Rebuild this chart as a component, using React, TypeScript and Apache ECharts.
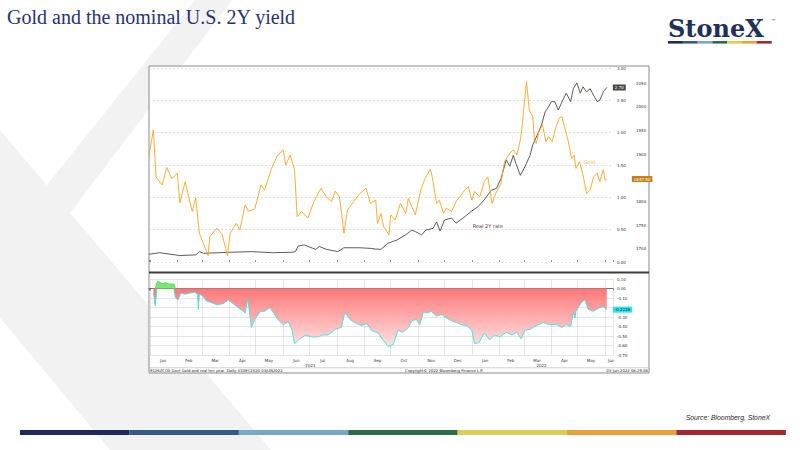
import * as echarts from "echarts";
import { useEffect, useRef } from "react";

type ChartOption = echarts.EChartsOption;

const NAVY = "#29336b";
const LOGO_NAVY = "#1f3157";
const GOLD_LINE = "#f6a524";
const YIELD_LINE = "#4e4944";
const CORR_LINE = "#3fe0e0";
const CORR_POS = "#4fd94f";
const INK = "#333333";
const GRID = "#d4d4d4";
const WATERMARK = "#f2f2f2";
const SANS = "'DejaVu Sans', Verdana, sans-serif";

// StoneX brand strip, left to right.
const BRAND = ["#1f2a5c", "#365b87", "#79a7c7", "#2d6b4b", "#d9cf56", "#e9a23a", "#a3282f"];

// Spot gold, USD/oz (right-hand axis of the top panel).
const GOLD_DATES = [
  "2020-12-31", "2021-01-05", "2021-01-08", "2021-01-15", "2021-01-20", "2021-01-26", "2021-02-01",
  "2021-02-04", "2021-02-10", "2021-02-18", "2021-02-22", "2021-02-26", "2021-03-08", "2021-03-10",
  "2021-03-18", "2021-03-24", "2021-03-30", "2021-04-02", "2021-04-09", "2021-04-13", "2021-04-19",
  "2021-04-23", "2021-04-30", "2021-05-07", "2021-05-11", "2021-05-19", "2021-05-25", "2021-06-01",
  "2021-06-04", "2021-06-09", "2021-06-14", "2021-06-17", "2021-06-22", "2021-06-29", "2021-07-06",
  "2021-07-14", "2021-07-20", "2021-07-26", "2021-07-30", "2021-08-04", "2021-08-09", "2021-08-13",
  "2021-08-20", "2021-08-27", "2021-09-03", "2021-09-08", "2021-09-14", "2021-09-16", "2021-09-20",
  "2021-09-23", "2021-09-29", "2021-10-01", "2021-10-06", "2021-10-12", "2021-10-18", "2021-10-21",
  "2021-10-25", "2021-10-29", "2021-11-04", "2021-11-09", "2021-11-15", "2021-11-17", "2021-11-22",
  "2021-11-25", "2021-11-30", "2021-12-03", "2021-12-09", "2021-12-15", "2021-12-20", "2021-12-24",
  "2021-12-28", "2022-01-01", "2022-01-04", "2022-01-10", "2022-01-15", "2022-01-19", "2022-01-24",
  "2022-01-28", "2022-02-03", "2022-02-07", "2022-02-13", "2022-02-17", "2022-02-21", "2022-02-25",
  "2022-02-27", "2022-03-01", "2022-03-04", "2022-03-07", "2022-03-11", "2022-03-13", "2022-03-15",
  "2022-03-18", "2022-03-22", "2022-03-26", "2022-03-29", "2022-04-02", "2022-04-06", "2022-04-10",
  "2022-04-13", "2022-04-16", "2022-04-20", "2022-04-24", "2022-04-27", "2022-04-29", "2022-05-03",
  "2022-05-07", "2022-05-11", "2022-05-15", "2022-05-19", "2022-05-23", "2022-05-26", "2022-05-30",
  "2022-06-01", "2022-06-03",
];
const GOLD = [
  1898, 1951, 1852, 1835, 1872, 1848, 1860,
  1797, 1842, 1779, 1808, 1734, 1686, 1726,
  1744, 1730, 1686, 1733, 1754, 1740, 1793,
  1779, 1785, 1835, 1824, 1870, 1895, 1909,
  1877, 1898, 1867, 1768, 1779, 1765, 1800,
  1828, 1810, 1800, 1822, 1810, 1733, 1782,
  1800, 1817, 1828, 1796, 1803, 1754, 1775,
  1747, 1730, 1772, 1761, 1796, 1775, 1807,
  1789, 1772, 1824, 1849, 1868, 1853, 1796,
  1803, 1775, 1786, 1779, 1803, 1814, 1824,
  1831, 1803, 1821, 1810, 1842, 1852, 1796,
  1817, 1839, 1884, 1902, 1909, 1898, 1930,
  1958, 2000, 2053, 1993, 1979, 1930, 1923,
  1947, 1962, 1926, 1937, 1926, 1955, 1976,
  1979, 1958, 1930, 1891, 1898, 1870, 1884,
  1856, 1817, 1824, 1852, 1860, 1842, 1867,
  1845, 1847.5,
];

// US 2Y yield, % (left scale of the top panel, labelled on the right).
const YIELD_DATES = [
  "2020-12-31", "2021-01-12", "2021-02-04", "2021-02-22", "2021-02-26", "2021-03-03", "2021-04-01",
  "2021-04-27", "2021-05-20", "2021-06-11", "2021-06-15", "2021-06-18", "2021-06-25", "2021-07-08",
  "2021-07-12", "2021-07-20", "2021-08-02", "2021-08-09", "2021-08-27", "2021-09-09", "2021-09-14",
  "2021-09-20", "2021-09-28", "2021-10-08", "2021-10-18", "2021-10-25", "2021-10-29", "2021-11-05",
  "2021-11-10", "2021-11-18", "2021-11-22", "2021-11-26", "2021-12-01", "2021-12-09", "2021-12-14",
  "2021-12-24", "2021-12-31", "2022-01-08", "2022-01-15", "2022-01-23", "2022-01-29", "2022-02-03",
  "2022-02-09", "2022-02-13", "2022-02-17", "2022-02-20", "2022-02-25", "2022-03-02", "2022-03-08",
  "2022-03-11", "2022-03-17", "2022-03-21", "2022-03-25", "2022-03-28", "2022-04-01", "2022-04-05",
  "2022-04-09", "2022-04-14", "2022-04-18", "2022-04-23", "2022-04-26", "2022-04-30", "2022-05-04",
  "2022-05-07", "2022-05-11", "2022-05-15", "2022-05-19", "2022-05-23", "2022-05-26", "2022-05-30",
  "2022-06-03",
];
const YIELD = [
  0.12, 0.144, 0.1, 0.11, 0.16, 0.134, 0.15,
  0.16, 0.144, 0.15, 0.16, 0.247, 0.263, 0.196,
  0.24, 0.196, 0.16, 0.22, 0.22, 0.21, 0.2,
  0.196, 0.29, 0.34, 0.42, 0.495, 0.47, 0.42,
  0.495, 0.52, 0.62, 0.48, 0.65, 0.68, 0.6,
  0.7, 0.78, 0.855, 0.96, 1.11, 1.14, 1.29,
  1.58, 1.48, 1.65, 1.52, 1.34, 1.47, 1.65,
  1.81, 1.99, 2.12, 2.32, 2.38, 2.48, 2.48,
  2.35, 2.5, 2.61, 2.48, 2.68, 2.77, 2.61,
  2.71, 2.63, 2.68, 2.58, 2.48, 2.5, 2.63,
  2.7,
];

// Lower panel: gold vs real ten year.
const CORR_DATES = [
  "2021-01-05", "2021-01-07", "2021-01-09", "2021-01-10", "2021-01-15", "2021-01-19", "2021-01-24",
  "2021-01-28", "2021-01-30", "2021-02-02", "2021-02-05", "2021-02-10", "2021-02-15", "2021-02-21",
  "2021-02-24", "2021-02-25", "2021-02-26", "2021-03-02", "2021-03-06", "2021-03-12", "2021-03-18",
  "2021-03-25", "2021-03-31", "2021-04-05", "2021-04-11", "2021-04-19", "2021-04-22", "2021-04-24",
  "2021-04-26", "2021-04-30", "2021-05-06", "2021-05-11", "2021-05-17", "2021-05-21", "2021-05-26",
  "2021-06-01", "2021-06-07", "2021-06-11", "2021-06-14", "2021-06-20", "2021-06-26", "2021-07-03",
  "2021-07-11", "2021-07-15", "2021-07-22", "2021-07-30", "2021-08-06", "2021-08-10", "2021-08-16",
  "2021-08-21", "2021-08-29", "2021-09-04", "2021-09-09", "2021-09-17", "2021-09-22", "2021-09-28",
  "2021-10-04", "2021-10-09", "2021-10-15", "2021-10-21", "2021-10-25", "2021-10-30", "2021-11-03",
  "2021-11-07", "2021-11-12", "2021-11-16", "2021-11-22", "2021-11-28", "2021-12-03", "2021-12-09",
  "2021-12-15", "2021-12-20", "2021-12-26", "2022-01-01", "2022-01-04", "2022-01-09", "2022-01-15",
  "2022-01-21", "2022-01-27", "2022-02-02", "2022-02-09", "2022-02-15", "2022-02-21", "2022-02-26",
  "2022-03-02", "2022-03-08", "2022-03-15", "2022-03-23", "2022-03-30", "2022-04-07", "2022-04-13",
  "2022-04-18", "2022-04-23", "2022-04-26", "2022-04-28", "2022-04-29", "2022-05-05", "2022-05-09",
  "2022-05-13", "2022-05-19", "2022-05-24", "2022-05-30", "2022-06-03",
];
const CORR = [
  -0.04, -0.18, 0.06, 0.077, 0.05, 0.06, 0.045,
  0.05, -0.098, -0.12, -0.05, -0.06, -0.05, -0.04,
  -0.06, -0.22, -0.06, -0.08, -0.13, -0.15, -0.17,
  -0.16, -0.12, -0.158, -0.2, -0.256, -0.11, -0.256,
  -0.41, -0.326, -0.24, -0.24, -0.2, -0.256, -0.326,
  -0.38, -0.35, -0.43, -0.58, -0.53, -0.49, -0.51,
  -0.51, -0.49, -0.49, -0.43, -0.41, -0.256, -0.326,
  -0.36, -0.39, -0.37, -0.44, -0.47, -0.54, -0.61,
  -0.59, -0.44, -0.46, -0.41, -0.34, -0.326, -0.38,
  -0.25, -0.256, -0.24, -0.29, -0.274, -0.31, -0.34,
  -0.36, -0.38, -0.39, -0.44, -0.58, -0.57, -0.47,
  -0.54, -0.49, -0.51, -0.46, -0.49, -0.46, -0.53,
  -0.44, -0.43, -0.39, -0.36, -0.38, -0.38, -0.41,
  -0.38, -0.4, -0.26, -0.31, -0.24, -0.15, -0.12,
  -0.22, -0.24, -0.21, -0.19, -0.2226,
];

const MONTH_NAMES = ["Jan", "Feb", "Mar", "Apr", "May", "Jun", "Jul", "Aug", "Sep", "Oct", "Nov", "Dec"];
// Month names sit in the middle of each month; June 2022 is cut short by the window.
const MONTH_LABEL_DATES = [
  "2021-01-16", "2021-02-14", "2021-03-16", "2021-04-16", "2021-05-16", "2021-06-16", "2021-07-16",
  "2021-08-16", "2021-09-16", "2021-10-16", "2021-11-16", "2021-12-16", "2022-01-16", "2022-02-14",
  "2022-03-16", "2022-04-16", "2022-05-16", "2022-06-08",
];
const YEAR_LABEL_DATES = ["2021-07-02", "2022-03-21"];

// Axis ticks hidden behind the last-value boxes in the reference.
const HIDDEN_GOLD_TICKS = [1850];
const HIDDEN_CORR_TICKS = ["-0.20"];

// Visible window of both panels.
const X_MIN = "2020-12-31";
const X_MAX = "2022-06-10";

const DAY = 24 * 3600 * 1000;

const ts = (s: string) => {
  const [y, m, d] = s.split("-").map(Number);
  return new Date(y, m - 1, d).getTime();
};

const pairs = (dates: string[], values: (number | null)[]) => dates.map((d, i) => [ts(d), values[i]]);

// Split the lower series at zero: each side keeps the zero points that touch it.
const sideOfZero = (values: number[], sign: 1 | -1) =>
  values.map((v, i) => {
    if (v * sign > 0) return v;
    const prev = values[i - 1];
    const next = values[i + 1];
    return (prev !== undefined && prev * sign > 0) || (next !== undefined && next * sign > 0) ? 0 : null;
  });

const tinyLabel = { fontSize: 4, color: INK, fontFamily: SANS };

function text(x: number, y: number, s: string, style: Record<string, unknown>) {
  return {
    type: "text",
    x,
    y,
    z: 60,
    silent: true,
    style: { text: s, verticalAlign: "middle", textVerticalAlign: "middle", ...style },
  };
}

const boxLabel = (bg: string, fg: string, distance: number, digits: number) => ({
  show: true,
  distance,
  formatter: (p: any) => Number(p.value[1]).toFixed(digits),
  backgroundColor: bg,
  color: fg,
  fontSize: 4,
  fontFamily: SANS,
  padding: [1, 2],
});

function buildOption(): ChartOption {
  const xMin = ts(X_MIN);
  const xMax = ts(X_MAX);
  const monthly = { min: xMin, max: xMax, minInterval: 28 * DAY, maxInterval: 31 * DAY, splitNumber: 18 };

  return {
    animation: false,
    backgroundColor: "#ffffff",
    textStyle: { fontFamily: SANS },
    grid: [
      // yield panel: 0.00 .. 3.00
      { left: 149, right: 187, top: 68, bottom: 188 },
      // gold scale, same panel: 1650 .. 2100
      { left: 149, right: 187, top: 59.3, bottom: 177.3 },
      // lower panel: -0.70 .. 0.10
      { left: 149, right: 187, top: 279, bottom: 95 },
    ],
    xAxis: [
      {
        type: "time",
        gridIndex: 0,
        ...monthly,
        offset: 10,
        axisLine: { show: false },
        axisTick: { show: true, inside: true, length: 2, lineStyle: { color: "#444444", width: 0.6 } },
        axisLabel: { show: false },
        splitLine: { show: false },
      },
      { type: "time", gridIndex: 1, ...monthly, show: false },
      {
        type: "time",
        gridIndex: 2,
        ...monthly,
        offset: 2,
        axisLine: { show: true, lineStyle: { color: "#555555", width: 0.8 } },
        axisTick: { show: true, length: 2, lineStyle: { color: "#555555", width: 0.6 } },
        axisLabel: { show: false },
        splitLine: { show: true, lineStyle: { color: GRID, width: 0.6 } },
      },
    ],
    yAxis: [
      {
        type: "value",
        gridIndex: 0,
        position: "right",
        min: 0,
        max: 3,
        interval: 0.5,
        axisLine: { show: false },
        axisTick: { show: false },
        splitLine: { show: true, lineStyle: { color: "#cccccc", type: [2, 2], width: 0.6 } },
        axisLabel: { ...tinyLabel, margin: 4, formatter: (v: number) => v.toFixed(2) },
      },
      {
        type: "value",
        gridIndex: 1,
        position: "right",
        offset: 19,
        min: 1650,
        max: 2100,
        interval: 50,
        axisLine: { show: false },
        axisTick: { show: false },
        splitLine: { show: false },
        axisLabel: {
          ...tinyLabel,
          margin: 4,
          showMinLabel: false,
          showMaxLabel: false,
          formatter: (v: number) => (HIDDEN_GOLD_TICKS.includes(v) ? "" : String(v)),
        },
      },
      {
        type: "value",
        gridIndex: 2,
        position: "right",
        min: -0.7,
        max: 0.1,
        interval: 0.1,
        axisLine: { show: false },
        axisTick: { show: false },
        splitLine: { show: true, lineStyle: { color: GRID, width: 0.6 } },
        axisLabel: {
          ...tinyLabel,
          margin: 4,
          formatter: (v: number) => (HIDDEN_CORR_TICKS.includes(v.toFixed(2)) ? "" : v.toFixed(2)),
        },
      },
    ],
    series: [
      {
        name: "Gold",
        type: "line",
        xAxisIndex: 1,
        yAxisIndex: 1,
        data: pairs(GOLD_DATES, GOLD),
        showSymbol: false,
        silent: true,
        z: 4,
        lineStyle: { color: GOLD_LINE, width: 0.9 },
        itemStyle: { color: GOLD_LINE },
        endLabel: boxLabel("#c47f17", "#ffffff", 25, 2),
      },
      {
        name: "Real 2Y rate",
        type: "line",
        xAxisIndex: 0,
        yAxisIndex: 0,
        data: pairs(YIELD_DATES, YIELD),
        showSymbol: false,
        silent: true,
        z: 3,
        lineStyle: { color: YIELD_LINE, width: 0.9 },
        itemStyle: { color: YIELD_LINE },
        endLabel: boxLabel("#4a4541", "#ffffff", 6, 2),
      },
      {
        name: "Gold and real ten year",
        type: "line",
        xAxisIndex: 2,
        yAxisIndex: 2,
        data: pairs(CORR_DATES, sideOfZero(CORR, -1)),
        connectNulls: false,
        showSymbol: false,
        silent: true,
        z: 4,
        lineStyle: { color: CORR_LINE, width: 0.9 },
        itemStyle: { color: CORR_LINE },
        areaStyle: {
          opacity: 1,
          color: new echarts.graphic.LinearGradient(0, 0, 0, 1, [
            { offset: 0, color: "#ff7878" },
            { offset: 1, color: "#ffe2e2" },
          ]),
        },
        endLabel: boxLabel("#33e3e3", "#1a1a1a", 6, 4),
      },
      {
        name: "Gold and real ten year (positive)",
        type: "line",
        xAxisIndex: 2,
        yAxisIndex: 2,
        data: pairs(CORR_DATES, sideOfZero(CORR, 1)),
        connectNulls: false,
        showSymbol: false,
        silent: true,
        z: 3,
        lineStyle: { color: CORR_POS, width: 0.9 },
        itemStyle: { color: CORR_POS },
        areaStyle: { opacity: 1, color: "#74ea74" },
      },
    ],
  };
}

// Page furniture plus month / year labels, positioned through the lower x scale.
function buildGraphic(chart: echarts.ECharts) {
  const px = (d: string) => chart.convertToPixel({ xAxisIndex: 2 }, ts(d)) as number;
  const g: any[] = [
    { type: "polygon", z: -100, silent: true, shape: { points: [[0, 130], [271, 450], [110, 450], [0, 318]] }, style: { fill: WATERMARK } },
    { type: "polygon", z: -100, silent: true, shape: { points: [[195, 0], [232, 0], [0, 305], [0, 244]] }, style: { fill: WATERMARK } },
    { type: "rect", z: -50, silent: true, shape: { x: 149, y: 66, width: 500, height: 307 }, style: { fill: "#ffffff", stroke: "#8a8a8a", lineWidth: 1 } },
    { type: "line", z: 50, silent: true, shape: { x1: 149, y1: 272.5, x2: 649, y2: 272.5 }, style: { stroke: "#3c3c3c", lineWidth: 2 } },
    { type: "line", z: 50, silent: true, shape: { x1: 149, y1: 367.8, x2: 649, y2: 367.8 }, style: { stroke: "#b0b0b0", lineWidth: 0.6 } },
    text(7, 16.5, "Gold and the nominal U.S. 2Y yield", { fill: NAVY, fontSize: 20, fontFamily: "'Liberation Serif', 'Times New Roman', serif" }),
    text(668, 28, "StoneX", { fill: LOGO_NAVY, fontSize: 24, fontWeight: "bold", fontFamily: "'DejaVu Serif', serif" }),
    text(771, 21, "\u2122", { fill: LOGO_NAVY, fontSize: 5, fontFamily: SANS }),
    text(770, 417, "Source: Bloomberg, StoneX", {
      fill: "#262626", fontSize: 6.8, fontStyle: "italic", fontFamily: "'Liberation Sans', Arial, sans-serif",
      align: "right", textAlign: "right",
    }),
    text(583.7, 162.3, "Gold", { fill: "#f5b244", fontSize: 5, fontFamily: SANS }),
    text(472.7, 225.7, "Real 2Y rate", { fill: "#5a3050", fontSize: 5, fontFamily: SANS }),
    text(150, 370.4, "9126ZCOX Govt Gold and real ten year  Daily 31DEC2020-03JUN2022", { fill: "#222222", fontSize: 3.8, fontFamily: SANS }),
    text(405, 370.4, "Copyright\u00a9 2022 Bloomberg Finance L.P.", { fill: "#222222", fontSize: 3.8, fontFamily: SANS }),
    text(648, 370.4, "03-Jun-2022 08:29:08", { fill: "#222222", fontSize: 3.8, fontFamily: SANS, align: "right", textAlign: "right" }),
  ];
  MONTH_LABEL_DATES.forEach((d) => {
    g.push(text(px(d), 360.5, MONTH_NAMES[new Date(ts(d)).getMonth()], { ...tinyLabel, fill: INK, align: "center", textAlign: "center" }));
  });
  YEAR_LABEL_DATES.forEach((d) => {
    g.push(text(px(d), 365.5, String(new Date(ts(d)).getFullYear()), { ...tinyLabel, fill: INK, align: "center", textAlign: "center" }));
  });
  BRAND.forEach((c, i) => {
    g.push({ type: "rect", z: 40, silent: true, shape: { x: 668 + i * 14.8, y: 41, width: 14.9, height: 2.6 }, style: { fill: c } });
    g.push({ type: "rect", z: 40, silent: true, shape: { x: 20 + i * 109.4, y: 430, width: 109.5, height: 5 }, style: { fill: c } });
  });
  return g;
}

export default function App() {
  const ref = useRef<HTMLDivElement>(null);

  useEffect(() => {
    document.body.style.margin = "0";
    const el = ref.current;
    if (!el) return;
    const chart = echarts.init(el, undefined, { renderer: "svg" });
    chart.setOption(buildOption());
    chart.setOption({ graphic: buildGraphic(chart) });
    return () => {
      chart.dispose();
    };
  }, []);

  return <div ref={ref} style={{ width: 800, height: 450, background: "#ffffff" }} />;
}
